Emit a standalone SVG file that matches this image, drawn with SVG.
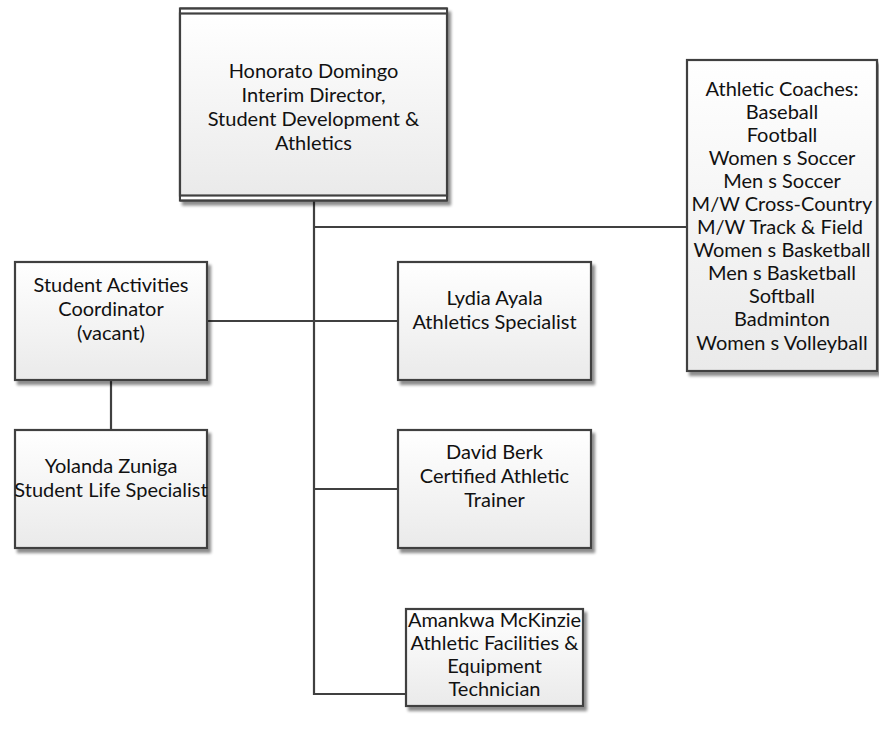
<svg xmlns="http://www.w3.org/2000/svg" width="879" height="730" viewBox="0 0 879 730">
  <defs>
    <linearGradient id="boxFill" x1="0" y1="0" x2="0" y2="1">
      <stop offset="0" stop-color="#ffffff"/>
      <stop offset="1" stop-color="#eaeaea"/>
    </linearGradient>
    <filter id="shadow" x="-10%" y="-10%" width="130%" height="130%">
      <feGaussianBlur in="SourceAlpha" stdDeviation="1.6"/>
      <feOffset dx="3" dy="4" result="blur"/>
      <feComponentTransfer><feFuncA type="linear" slope="0.45"/></feComponentTransfer>
      <feMerge><feMergeNode/><feMergeNode in="SourceGraphic"/></feMerge>
    </filter>
  </defs>
  <style>
    .box { fill: url(#boxFill); stroke: #404040; stroke-width: 2.2; filter: url(#shadow); }
    .inner { fill: url(#boxFill); stroke: #404040; stroke-width: 2.2; }
    .link { fill: none; stroke: #404040; stroke-width: 2.2; }
    text { font-family: Lato, "Liberation Sans", sans-serif; font-size: 20px; fill: #111111; text-anchor: middle; dominant-baseline: central; }
  </style>
  <rect width="879" height="730" fill="#ffffff"/>

  <g id="connectors">
    <path class="link" d="M314,201 V694 H406"/>
    <path class="link" d="M314,227 H687"/>
    <path class="link" d="M207,321 H398"/>
    <path class="link" d="M314,489 H398"/>
    <path class="link" d="M111,380 V430"/>
  </g>

  <g id="director">
    <rect class="box" x="180" y="8.5" width="267" height="192"/>
    <rect x="181" y="9.5" width="265" height="190" fill="#ffffff"/>
    <rect class="inner" x="180" y="13.5" width="267" height="182"/>
    <line x1="180" y1="8.5" x2="447" y2="8.5" stroke="#404040" stroke-width="2.2"/>
    <line x1="180" y1="200.5" x2="447" y2="200.5" stroke="#404040" stroke-width="2.2"/>
    <text x="313.5" y="70">Honorato Domingo</text>
    <text x="313.5" y="94">Interim Director,</text>
    <text x="313.5" y="118">Student Development &amp;</text>
    <text x="313.5" y="142">Athletics</text>
  </g>

  <g id="coaches">
    <rect class="box" x="687" y="60" width="190" height="311"/>
    <text x="782" y="88">Athletic Coaches:</text>
    <text x="782" y="111">Baseball</text>
    <text x="782" y="134">Football</text>
    <text x="782" y="157">Women s Soccer</text>
    <text x="782" y="180">Men s Soccer</text>
    <text x="782" y="203">M/W Cross-Country</text>
    <text x="780" y="226">M/W Track &amp; Field</text>
    <text x="782" y="249">Women s Basketball</text>
    <text x="782" y="272">Men s Basketball</text>
    <text x="782" y="295">Softball</text>
    <text x="782" y="318">Badminton</text>
    <text x="782" y="342">Women s Volleyball</text>
  </g>

  <g id="activities">
    <rect class="box" x="15" y="262" width="192" height="118"/>
    <text x="111" y="284">Student Activities</text>
    <text x="111" y="308">Coordinator</text>
    <text x="111" y="332">(vacant)</text>
  </g>

  <g id="ayala">
    <rect class="box" x="398" y="262" width="193" height="118"/>
    <text x="494.5" y="297">Lydia Ayala</text>
    <text x="494.5" y="321">Athletics Specialist</text>
  </g>

  <g id="zuniga">
    <rect class="box" x="15" y="430" width="192" height="118"/>
    <text x="111" y="465">Yolanda Zuniga</text>
    <text x="111" y="489">Student Life Specialist</text>
  </g>

  <g id="berk">
    <rect class="box" x="398" y="430" width="193" height="118"/>
    <text x="494.5" y="451">David Berk</text>
    <text x="494.5" y="475">Certified Athletic</text>
    <text x="494.5" y="499">Trainer</text>
  </g>

  <g id="mckinzie">
    <rect class="box" x="406" y="609" width="177" height="97"/>
    <text x="494.5" y="619">Amankwa McKinzie</text>
    <text x="494.5" y="642">Athletic Facilities &amp;</text>
    <text x="494.5" y="665">Equipment</text>
    <text x="494.5" y="688">Technician</text>
  </g>
</svg>
